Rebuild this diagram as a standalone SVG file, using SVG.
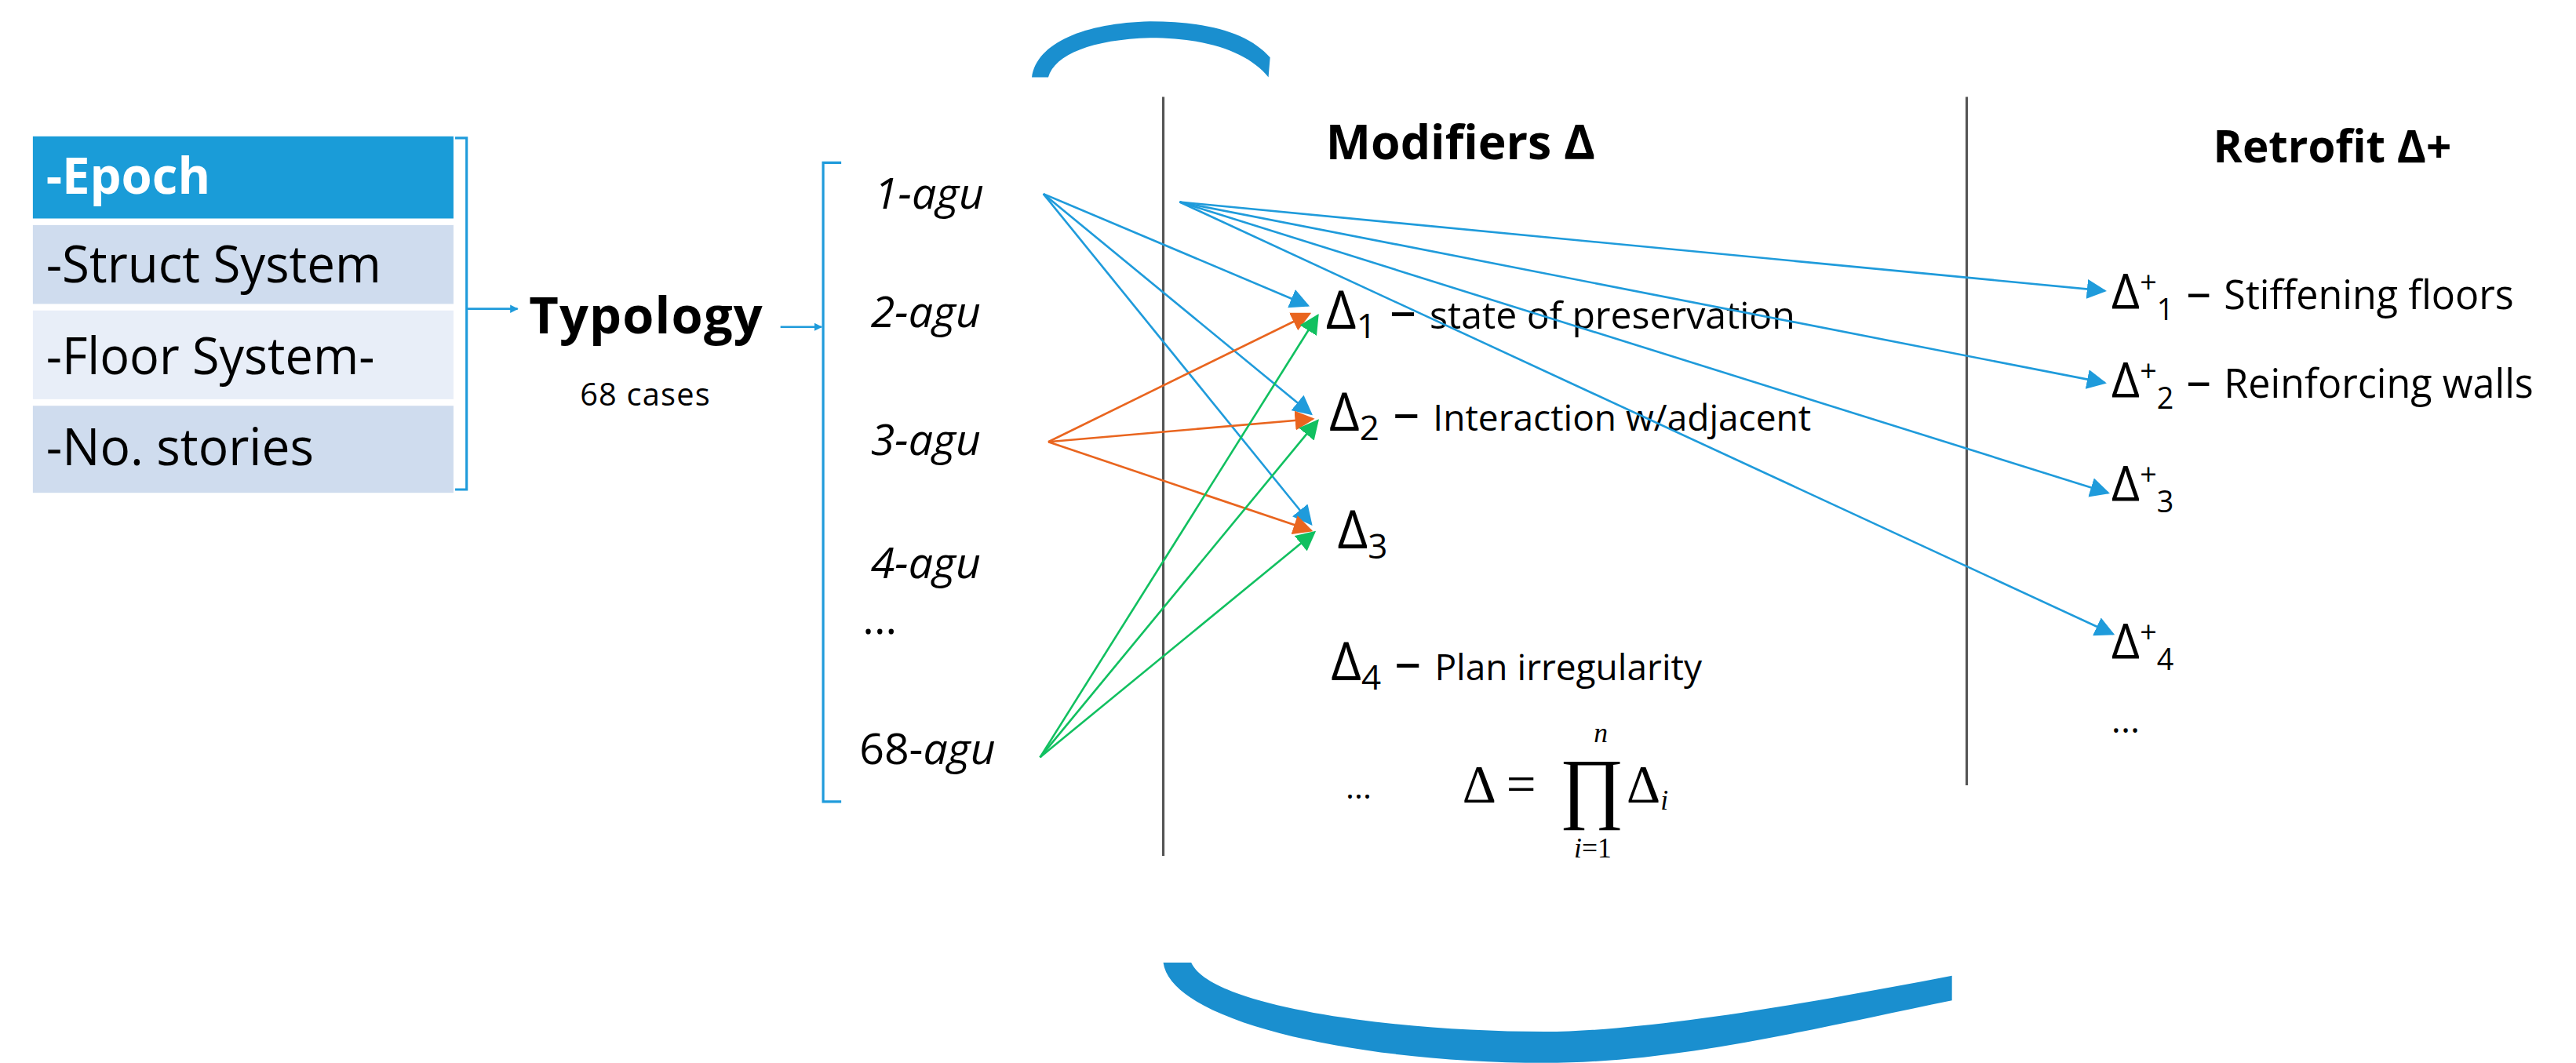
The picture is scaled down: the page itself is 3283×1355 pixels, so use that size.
<svg xmlns="http://www.w3.org/2000/svg" width="3283" height="1355" viewBox="0 0 3283 1355">
<defs>
<style>
.t{font-family:"Open Sans","Liberation Sans",sans-serif;fill:#000}
.b{font-weight:bold}
.i{font-style:italic}
.m{font-family:"Liberation Serif",serif;fill:#000}
.cb{stroke:#1f9bdb;stroke-width:2.5;fill:none}
.co{stroke:#e9651f;stroke-width:2.5;fill:none}
.cg{stroke:#11c060;stroke-width:2.5;fill:none}
.br{stroke:#1f9bdb;stroke-width:3;fill:none}
.vl{stroke:#555;stroke-width:3}
</style>
<marker id="ab" viewBox="0 0 10 10" refX="9" refY="5" markerWidth="10" markerHeight="10" markerUnits="userSpaceOnUse" orient="auto"><path d="M0,0L10,5L0,10z" fill="#1f9bdb"/></marker>
<marker id="ab2" viewBox="0 0 10 10" refX="9" refY="5" markerWidth="24" markerHeight="24" markerUnits="userSpaceOnUse" orient="auto"><path d="M0,0L10,5L0,10z" fill="#1f9bdb"/></marker>
<marker id="ao" viewBox="0 0 10 10" refX="9" refY="5" markerWidth="24" markerHeight="24" markerUnits="userSpaceOnUse" orient="auto"><path d="M0,0L10,5L0,10z" fill="#e9651f"/></marker>
<marker id="ag" viewBox="0 0 10 10" refX="9" refY="5" markerWidth="24" markerHeight="24" markerUnits="userSpaceOnUse" orient="auto"><path d="M0,0L10,5L0,10z" fill="#11c060"/></marker>
</defs>
<rect width="3283" height="1355" fill="#fff"/>
<g transform="scale(1.047)">
<g id="attributes">
<rect x="40" y="166" width="512" height="100" fill="#1a9cd8"/>
<rect x="40" y="274" width="512" height="96" fill="#cfdcee"/>
<rect x="40" y="378" width="512" height="108" fill="#e8eef8"/>
<rect x="40" y="494" width="512" height="106" fill="#cfdcee"/>
<text class="t b" x="56" y="236" font-size="62" style="fill:#fff" textLength="200" lengthAdjust="spacingAndGlyphs">-Epoch</text>
<text class="t" x="56" y="344" font-size="62" textLength="408" lengthAdjust="spacingAndGlyphs">-Struct System</text>
<text class="t" x="56" y="456" font-size="62" textLength="400" lengthAdjust="spacingAndGlyphs">-Floor System-</text>
<text class="t" x="56" y="566" font-size="62" textLength="326" lengthAdjust="spacingAndGlyphs">-No. stories</text>
</g>
<g id="bracket1"><path class="br" d="M554,168H568V596H554"/></g>
<g id="typology">
<text class="t b" x="644" y="406" font-size="62" textLength="284">Typology</text>
<text class="t" x="706" y="494" font-size="38" textLength="158">68 cases</text>
</g>
<g id="bracket2"><path class="br" d="M1024,198H1002V976H1024"/></g>
<g id="agus" class="t i" font-size="53">
<text x="1064" y="254">1-agu</text>
<text x="1060" y="398">2-agu</text>
<text x="1060" y="554">3-agu</text>
<text x="1060" y="704">4-agu</text>
<text x="1050" y="772" font-style="normal">...</text>
<text x="1046" y="930"><tspan font-style="normal">68-</tspan>agu</text>
</g>
<g id="dividers">
<line class="vl" x1="1416" y1="118" x2="1416" y2="1042"/>
<line class="vl" x1="2394" y1="118" x2="2394" y2="956"/>
</g>
<g id="modifiers" class="t">
<text class="b" x="1614" y="194" font-size="58">Modifiers Δ</text>
<text x="1614" y="400" font-size="64">Δ<tspan font-size="42" dy="12">1</tspan><tspan dy="-12"> – </tspan><tspan font-size="46">state of preservation</tspan></text>
<text x="1618" y="524" font-size="64">Δ<tspan font-size="42" dy="12">2</tspan><tspan dy="-12"> – </tspan><tspan font-size="44">Interaction w/adjacent</tspan></text>
<text x="1628" y="668" font-size="64">Δ<tspan font-size="42" dy="12">3</tspan></text>
<text x="1620" y="828" font-size="64">Δ<tspan font-size="42" dy="12">4</tspan><tspan dy="-12"> – </tspan><tspan font-size="44">Plan irregularity</tspan></text>
<text x="1638" y="972" font-size="40">...</text>
</g>
<g id="formula" class="m">
<text x="1780" y="976" font-size="64">Δ = </text>
<text x="1898" y="990" font-size="96">∏</text>
<text x="1980" y="976" font-size="64">Δ<tspan font-size="34" font-style="italic" dy="10">i</tspan></text>
<text x="1940" y="904" font-size="34" font-style="italic">n</text>
<text x="1916" y="1044" font-size="34"><tspan font-style="italic">i</tspan>=1</text>
</g>
<g id="retrofit" class="t">
<text class="b" x="2694" y="198" font-size="54">Retrofit Δ+</text>
<text x="2570" y="376" font-size="60">Δ<tspan font-size="36" dy="-20">+</tspan><tspan font-size="36" dy="34">1</tspan><tspan dy="-14"> – </tspan><tspan font-size="48">Stiffening floors</tspan></text>
<text x="2570" y="484" font-size="60">Δ<tspan font-size="36" dy="-20">+</tspan><tspan font-size="36" dy="34">2</tspan><tspan dy="-14"> –  </tspan><tspan font-size="48">Reinforcing walls</tspan></text>
<text x="2570" y="610" font-size="60">Δ<tspan font-size="36" dy="-20">+</tspan><tspan font-size="36" dy="34">3</tspan></text>
<text x="2570" y="802" font-size="60">Δ<tspan font-size="36" dy="-20">+</tspan><tspan font-size="36" dy="34">4</tspan></text>
<text x="2570" y="892" font-size="44">...</text>
</g>
<g id="cycle" fill="#1a8fcf">
<path d="M1256,94 C1262,52 1320,28 1400,26 C1470,26 1520,40 1546,70 L1544,94 C1520,64 1470,46 1400,46 C1330,48 1284,66 1276,94 Z"/>
<path d="M1416,1172 L1450,1172 C1474,1226 1700,1256 1880,1256 C2000,1256 2200,1222 2376,1188 L2376,1218 C2200,1254 2040,1294 1880,1294 C1660,1294 1426,1246 1416,1172 Z"/>
</g>
<g id="connectors">
<line class="cb" x1="568" y1="376" x2="630" y2="376" marker-end="url(#ab)"/>
<line class="cb" x1="950" y1="398" x2="1000" y2="398" marker-end="url(#ab)"/>
<line class="cb" x1="1270" y1="236" x2="1592" y2="372" marker-end="url(#ab2)"/>
<line class="cb" x1="1270" y1="236" x2="1596" y2="504" marker-end="url(#ab2)"/>
<line class="cb" x1="1270" y1="236" x2="1596" y2="638" marker-end="url(#ab2)"/>
<line class="co" x1="1276" y1="538" x2="1594" y2="382" marker-end="url(#ao)"/>
<line class="co" x1="1276" y1="538" x2="1598" y2="510" marker-end="url(#ao)"/>
<line class="co" x1="1276" y1="538" x2="1596" y2="646" marker-end="url(#ao)"/>
<line class="cg" x1="1266" y1="922" x2="1604" y2="384" marker-end="url(#ag)"/>
<line class="cg" x1="1266" y1="922" x2="1604" y2="512" marker-end="url(#ag)"/>
<line class="cg" x1="1266" y1="922" x2="1600" y2="648" marker-end="url(#ag)"/>
<line class="cb" x1="1436" y1="246" x2="2562" y2="354" marker-end="url(#ab2)"/>
<line class="cb" x1="1436" y1="246" x2="2562" y2="466" marker-end="url(#ab2)"/>
<line class="cb" x1="1436" y1="246" x2="2566" y2="600" marker-end="url(#ab2)"/>
<line class="cb" x1="1436" y1="246" x2="2572" y2="772" marker-end="url(#ab2)"/>
</g>
</g>
</svg>
